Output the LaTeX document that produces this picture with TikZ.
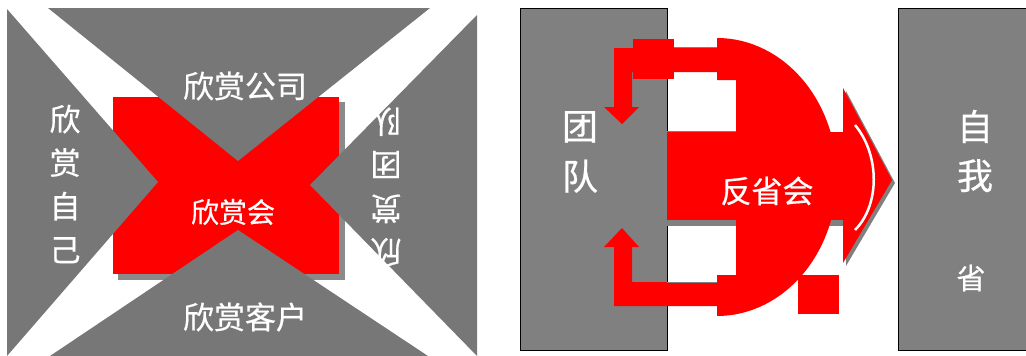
\documentclass[tikz,border=0pt]{standalone}
\usepackage{fontspec}
\newfontfamily\cjk{Noto Sans CJK SC}[FakeBold=0.6]
\definecolor{trigray}{HTML}{777777}
\definecolor{boxgray}{HTML}{808080}
\definecolor{shadgray}{HTML}{8A8A8A}
\definecolor{pptred}{HTML}{FF0000}
\tikzset{
  lbl/.style={text=white, inner sep=0pt, align=center},
  tri/.style={fill=trigray},
  panel/.style={fill=boxgray, draw=black, line width=0.9pt},
  redfill/.style={fill=pptred},
  shadowfill/.style={fill=shadgray}
}
\begin{document}
\begin{tikzpicture}[x=1pt,y=-1pt]
\useasboundingbox (0,0) rectangle (1026,356);
% ---------- left panel ----------
\fill[shadowfill] (118,102) rectangle (345,280);
\fill[redfill] (113,97) rectangle (339,274);
\fill[tri] (48,8) -- (430,8) -- (238,161) -- cycle;
\fill[tri] (7,9) -- (158,182) -- (7,356) -- cycle;
\fill[tri] (477,15) -- (477,356) -- (310,185) -- cycle;
\fill[tri] (50,356) -- (238,230) -- (428,356) -- cycle;
\node[lbl, font=\cjk\fontsize{31}{37}\selectfont] (gs) at (245,86) {欣赏公司};
\node[lbl, font=\cjk\fontsize{31}{37}\selectfont] (kh) at (245,317) {欣赏客户};
\node[lbl, font=\cjk\fontsize{28}{34}\selectfont] (hui) at (233,212) {欣赏会};
\node[lbl, font=\cjk\fontsize{31}{43.5}\selectfont] (zj) at (65,184) {欣\\赏\\自\\己};
\node[lbl, font=\cjk\fontsize{31}{43.5}\selectfont, rotate=180] (td) at (386,187) {欣\\赏\\团\\队};
% ---------- right panel ----------
\draw[panel] (520,8) rectangle (667,350);
\draw[panel] (898,8) rectangle (1032,350);
% upper bent arrow
\fill[redfill] (614,48) -- (717,48) -- (717,72) -- (632,72) -- (632,107) -- (639,107)
  -- (622,124) -- (604,107) -- (614,107) -- cycle;
\fill[redfill] (633,39) rectangle (674,79);
\draw[boxgray, line width=1pt] (674,47) -- (717,47);
% lower bent arrow
\fill[redfill] (614,306) -- (717,306) -- (717,282) -- (632,282) -- (632,247) -- (639,247)
  -- (622,228) -- (604,247) -- (614,247) -- cycle;
\draw[boxgray, line width=1pt] (667,282) -- (717,282);
% middle bar
\fill[fill=boxgray] (667,138) rectangle (843,226);
\draw[boxgray, line width=1pt] (667,131) -- (736,131);
\fill[redfill] (667,132) rectangle (843,220);
% arrow head
\fill[fill=boxgray] (846,91) -- (895,183) -- (846,266) -- cycle;
\fill[redfill] (843,88) -- (892,180) -- (843,263) -- cycle;
% D shape
\fill[redfill] (717,38) -- plot[domain=90:-90, samples=91] ({717+120*cos(\x)},{177-139*sin(\x)})
  -- (717,316) -- (717,275) -- (736,275) -- (736,80) -- (717,80) -- cycle;
\fill[redfill] (798,275) rectangle (839,314);
\draw[white, line width=2.5pt] (855,125) .. controls (880,155) and (880,205) .. (855,230);
% labels
\node[lbl, font=\cjk\fontsize{36}{50}\selectfont] (team) at (580,152) {团\\队};
\node[lbl, font=\cjk\fontsize{36}{49}\selectfont] (self) at (975,151) {自\\我};
\node[lbl, font=\cjk\fontsize{29}{34}\selectfont] (sheng) at (971,278) {省};
\node[lbl, font=\cjk\fontsize{31}{37}\selectfont] (fsh) at (767,191) {反省会};
\end{tikzpicture}
\end{document}
